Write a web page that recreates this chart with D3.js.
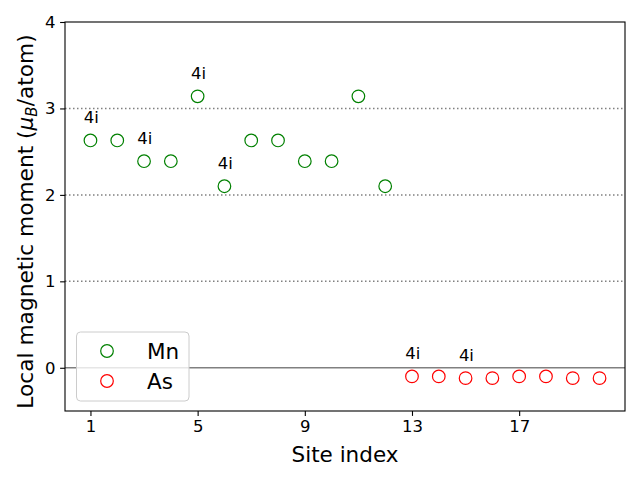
<!DOCTYPE html>
<html><head><meta charset="utf-8">
<script src="https://cdn.jsdelivr.net/npm/d3@7"></script>
<style>body{margin:0;background:#fff}svg{font-family:"DejaVu Sans",sans-serif}</style>
</head><body><svg id="c" width="640" height="480"></svg>
<script>
const mnSites = [1,2,3,4,5,6,7,8,9,10,11,12];
const mnValues = [2.63,2.63,2.39,2.39,3.14,2.10,2.63,2.63,2.39,2.39,3.14,2.10];
const asSites = [13,14,15,16,17,18,19,20];
const asValues = [-0.10,-0.10,-0.12,-0.12,-0.10,-0.10,-0.12,-0.12];
const labelSites = [1,3,5,6,13,15];
const labelTexts = ["4i","4i","4i","4i","4i","4i"];
const xTicks = [1,5,9,13,17];
const yTicks = [0,1,2,3,4];
const gridValues = [1,2,3];

const svg = d3.select("#c");
const L=65,R=625,T=22,B=411;
const x = d3.scaleLinear().domain([0.05,20.95]).range([L,R]);
const y = d3.scaleLinear().domain([-0.5,4]).range([B,T]);

svg.append("g").selectAll("line").data(gridValues).join("line")
  .attr("x1",L).attr("x2",R).attr("y1",d=>y(d)).attr("y2",d=>y(d))
  .attr("stroke","#808080").attr("stroke-width",1.5).attr("stroke-dasharray","1.5,2.5");
svg.append("line").attr("x1",L).attr("x2",R).attr("y1",y(0)).attr("y2",y(0))
  .attr("stroke","#808080").attr("stroke-width",1.5);

const allVals = mnValues.concat(asValues);
const allSites = mnSites.concat(asSites);

svg.append("g").selectAll("circle").data(mnSites).join("circle")
  .attr("cx",d=>x(d)).attr("cy",(d,i)=>y(mnValues[i])).attr("r",6.3)
  .attr("fill","none").attr("stroke","green").attr("stroke-width",1.2);
svg.append("g").selectAll("circle").data(asSites).join("circle")
  .attr("cx",d=>x(d)).attr("cy",(d,i)=>y(asValues[i])).attr("r",6.3)
  .attr("fill","none").attr("stroke","red").attr("stroke-width",1.2);

svg.append("g").selectAll("text").data(labelSites).join("text")
  .attr("x",d=>x(d-0.25)).attr("y",d=>y(allVals[allSites.indexOf(d)]+0.2))
  .attr("font-size","16.5px").attr("fill","#000").text((d,i)=>labelTexts[i]);

const gx = svg.append("g").attr("transform",`translate(0,${B})`)
  .call(d3.axisBottom(x).tickValues(xTicks).tickSize(4.9).tickPadding(4.5).tickFormat(d3.format("d")));
const gy = svg.append("g").attr("transform",`translate(${L},0)`)
  .call(d3.axisLeft(y).tickValues(yTicks).tickSize(4.9).tickPadding(4.5).tickFormat(d3.format("d")));
[gx,gy].forEach(g=>{
  g.select(".domain").remove();
  g.selectAll("text").attr("font-size","16.5px").attr("font-family","DejaVu Sans").attr("fill","#000");
  g.selectAll("line").attr("stroke","#000").attr("stroke-width",1.1);
});
svg.append("rect").attr("x",L).attr("y",T).attr("width",R-L).attr("height",B-T)
  .attr("fill","none").attr("stroke","#000").attr("stroke-width",1.1);

svg.append("text").attr("x",(L+R)/2).attr("y",462).attr("text-anchor","middle")
  .attr("font-size","21.5px").text("Site index");
const yl = svg.append("text").attr("transform",`translate(33,${(T+B)/2+5}) rotate(-90)`)
  .attr("text-anchor","middle").attr("font-size","21.7px");
yl.append("tspan").text("Local magnetic moment (");
yl.append("tspan").attr("font-style","italic").text("μ");
yl.append("tspan").attr("font-style","italic").attr("font-size","15px").attr("dy",4).text("B");
yl.append("tspan").attr("dy",-4).text("/atom)");

const leg = svg.append("g");
leg.append("rect").attr("x",76.5).attr("y",332).attr("width",112.5).attr("height",69).attr("rx",4)
  .attr("fill","#fff").attr("fill-opacity",0.8).attr("stroke","#ccc").attr("stroke-width",1);
const legNames = ["Mn","As"], legColors = ["green","red"];
legNames.forEach((n,i)=>{
  leg.append("circle").attr("cx",107).attr("cy",351+i*30).attr("r",6.3)
    .attr("fill","none").attr("stroke",legColors[i]).attr("stroke-width",1.2);
  leg.append("text").attr("x",147).attr("y",358.5+i*30).attr("font-size","21.5px").text(n);
});
</script></body></html>
